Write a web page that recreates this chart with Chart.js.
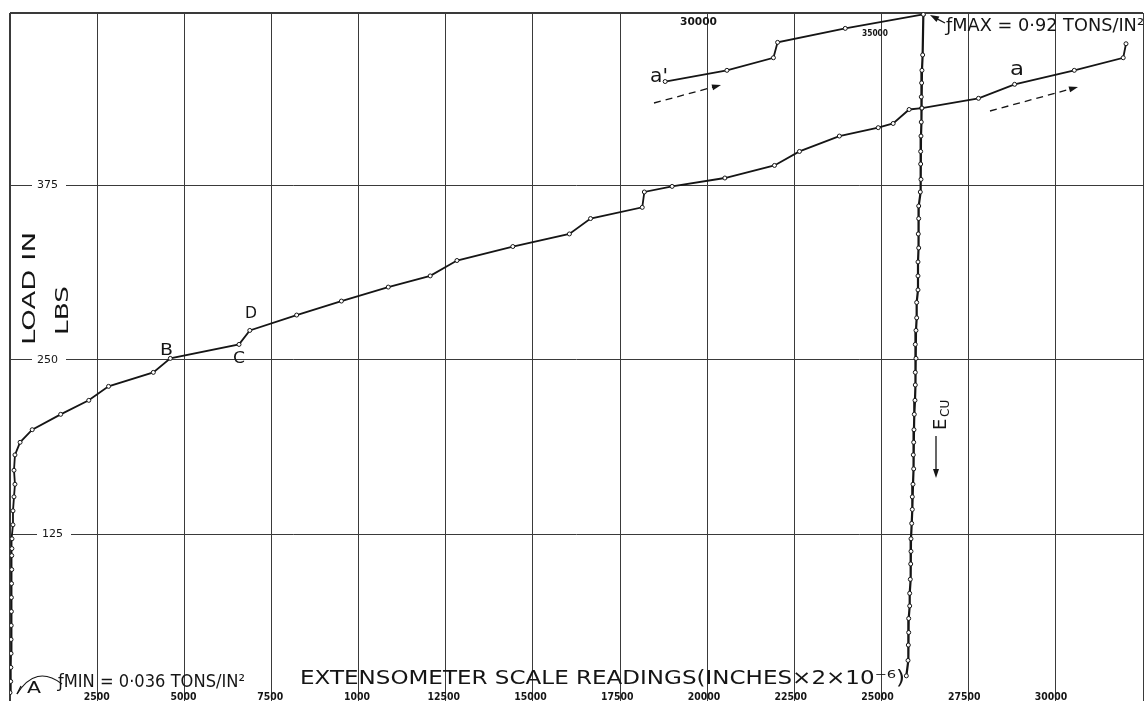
<!DOCTYPE html>
<html>
<head>
<meta charset="utf-8">
<script src="https://cdn.jsdelivr.net/npm/chart.js@4.4.1/dist/chart.umd.min.js"></script>
<style>
html, body { margin: 0; padding: 0; background: #fff; }
#wrap { width: 1148px; height: 706px; }
</style>
</head>
<body>
<div id="wrap"><canvas id="loadChart" width="1148" height="706"></canvas></div>
<script>
// loading curve A - B - C - D - a  (extensometer reading, load in lbs)
const loadExt = [0, 20, 25, 30, 30, 35, 40, 40, 45, 50, 50, 55, 57, 85, 86, 115, 143, 115, 143, 290, 640, 1460, 2270, 2840, 4130, 4620, 6600, 6910, 8260, 9550, 10900, 12110, 12880, 14490, 16120, 16730, 18220, 18280, 19080, 20600, 22030, 22750, 23900, 25020, 25450, 25910, 26280, 27910, 28950, 30670, 32080, 32160];
const loadLbs = [12, 20, 30, 40, 50, 60, 70, 80, 90, 100, 110, 115, 122, 132, 142, 152, 161, 171, 182, 191, 200, 211, 221, 231, 241, 251, 261, 271, 282, 292, 302, 310, 321, 331, 340, 351, 359, 370, 374, 380, 389, 399, 410, 416, 419, 429, 430, 437, 447, 457, 466, 476];

// a' - the end of the curve drawn again at the top, up to fmax
const contExt = [18880, 20660, 22000, 22120, 24070, 26320];
const contLbs = [449, 457, 466, 477, 487, 497];

// unloading line Ecu
const unloadExt = [26320, 26300, 26280, 26271, 26260, 26271, 26260, 26252, 26243, 26243, 26252, 26232, 26186, 26186, 26174, 26186, 26166, 26166, 26166, 26128, 26128, 26108, 26088, 26108, 26088, 26088, 26079, 26059, 26050, 26042, 26030, 26042, 26022, 26002, 26002, 25985, 25964, 25964, 25956, 25944, 25927, 25927, 25898, 25898, 25887, 25878, 25830];
const unloadLbs = [497, 468, 457, 448, 438, 430, 420, 410, 399, 390, 379, 370, 360, 351, 340, 330, 320, 310, 300, 291, 280, 271, 261, 251, 241, 232, 221, 211, 200, 191, 182, 172, 161, 152, 143, 133, 122, 113, 104, 93, 83, 74, 65, 55, 46, 35, 24];

const xTickValues = [2500, 5000, 7500, 10000, 12500, 15000, 17500, 20000, 22500, 25000, 27500, 30000];
const xTickLabels = ["2500", "5000", "7500", "1000", "12500", "15000", "17500", "20000", "22500", "25000", "27500", "30000"];
const yTickValues = [125, 250, 375];
const yTickLabels = ["125", "250", "375"];

const ink = "#151515";
const hand = '"DejaVu Sans", sans-serif';

function toPoints(xs, ys) {
    return xs.map((x, i) => ({ x: x, y: ys[i] }));
}

function curve(label, xs, ys, width) {
    return {
        label: label,
        data: toPoints(xs, ys),
        showLine: true,
        borderColor: ink,
        borderWidth: width,
        pointRadius: 2,
        pointBorderWidth: 1,
        pointBorderColor: ink,
        pointBackgroundColor: "#fff",
        tension: 0
    };
}

// text squeezed or stretched to the width it has in the drawing
function fitText(c, text, x, y, w, size, weight) {
    c.save();
    c.font = (weight || "normal") + " " + size + "px " + hand;
    c.textBaseline = "middle";
    c.textAlign = "left";
    const m = c.measureText(text).width;
    c.translate(x, y);
    c.scale(w / m, 1);
    c.fillText(text, 0, 0);
    c.restore();
}

function fitTextUp(c, text, cx, yBottom, yTop, size) {
    c.save();
    c.font = size + "px " + hand;
    c.textBaseline = "middle";
    c.textAlign = "left";
    const m = c.measureText(text).width;
    c.translate(cx, yBottom);
    c.rotate(-Math.PI / 2);
    c.scale((yBottom - yTop) / m, 1);
    c.fillText(text, 0, 0);
    c.restore();
}

function arrow(c, x1, y1, x2, y2, dashed) {
    const a = Math.atan2(y2 - y1, x2 - x1);
    c.save();
    c.lineWidth = 1.3;
    if (dashed) c.setLineDash([7, 5]);
    c.beginPath();
    c.moveTo(x1, y1);
    c.lineTo(x2 - 6 * Math.cos(a), y2 - 6 * Math.sin(a));
    c.stroke();
    c.setLineDash([]);
    c.beginPath();
    c.moveTo(x2, y2);
    c.lineTo(x2 - 9 * Math.cos(a) + 3 * Math.sin(a), y2 - 9 * Math.sin(a) - 3 * Math.cos(a));
    c.lineTo(x2 - 9 * Math.cos(a) - 3 * Math.sin(a), y2 - 9 * Math.sin(a) + 3 * Math.cos(a));
    c.closePath();
    c.fill();
    c.restore();
}

// tick labels sit inside the frame, so they are placed from the scales here
const tickLabels = {
    id: "tickLabels",
    afterDraw(chart) {
        const c = chart.ctx;
        const xs = chart.scales.x;
        const ys = chart.scales.y;
        c.save();
        c.fillStyle = ink;
        c.textBaseline = "middle";

        c.font = "bold 11px " + hand;
        c.textAlign = "center";
        xTickValues.forEach((v, i) => {
            const px = xs.getPixelForValue(v);
            c.save();
            c.translate(px, 697);
            c.scale(0.85, 1);
            c.fillText(xTickLabels[i], 0, 0);
            c.restore();
        });

        c.font = "11px " + hand;
        c.textAlign = "left";
        yTickValues.forEach((v, i) => {
            const py = ys.getPixelForValue(v);
            const x0 = i === 0 ? 42 : 37;
            const w = c.measureText(yTickLabels[i]).width;
            c.fillStyle = "#fff";
            c.fillRect(x0 - 5, py - 3, w + 13, 6);
            c.fillStyle = ink;
            c.fillText(yTickLabels[i], x0, py);
        });
        c.restore();
    }
};

const notes = {
    id: "notes",
    afterDatasetsDraw(chart) {
        const c = chart.ctx;
        c.save();
        c.fillStyle = ink;
        c.strokeStyle = ink;

        fitText(c, "EXTENSOMETER SCALE READINGS(INCHES\u00d72\u00d710\u207b\u2076)", 300, 679, 605, 19);
        fitText(c, "\u0192MIN = 0\u00b7036 TONS/IN\u00b2", 58, 683, 187, 17);
        fitText(c, "\u0192MAX = 0\u00b792 TONS/IN\u00b2", 946, 27, 198, 17);

        fitTextUp(c, "LOAD IN", 30, 345, 232, 18);
        fitTextUp(c, "LBS", 63, 335, 286, 18);

        fitText(c, "30000", 680, 22, 37, 11, "bold");
        fitText(c, "35000", 862, 34, 26, 9, "bold");

        fitText(c, "B", 160, 351, 13, 16);
        fitText(c, "C", 233, 359, 12, 16);
        fitText(c, "D", 245, 314, 12, 16);
        fitText(c, "a'", 650, 77, 18, 20);
        fitText(c, "a", 1010, 70, 14, 20);
        fitText(c, "A", 27, 689, 14, 16);

        // Ecu, written upwards beside the unloading line
        c.save();
        c.translate(941, 430);
        c.rotate(-Math.PI / 2);
        c.font = "18px " + hand;
        c.textBaseline = "middle";
        c.fillText("E", 0, 0);
        c.font = "12px " + hand;
        c.fillText("CU", 13, 5);
        c.restore();

        arrow(c, 936, 436, 936, 478, false);
        arrow(c, 945, 23, 930, 15, false);
        arrow(c, 654, 103, 721, 85, true);
        arrow(c, 990, 111, 1078, 87, true);

        // little arc over A
        c.lineWidth = 1.2;
        c.beginPath();
        c.moveTo(17, 694);
        c.quadraticCurveTo(36, 664, 62, 684);
        c.stroke();
        c.beginPath();
        c.moveTo(17, 694);
        c.lineTo(21, 686);
        c.stroke();

        c.restore();
    }
};

new Chart(document.getElementById("loadChart"), {

    type: "scatter",

    data: {
        datasets: [
            curve("Loading", loadExt, loadLbs, 1.8),
            curve("a'", contExt, contLbs, 1.8),
            curve("Ecu", unloadExt, unloadLbs, 2.2)
        ]
    },

    options: {
        responsive: false,
        animation: false,
        devicePixelRatio: 1,
        layout: { padding: { left: 10, top: 13, right: 0, bottom: 0 } },
        plugins: {
            legend: { display: false },
            tooltip: { enabled: false }
        },
        scales: {
            x: {
                type: "linear",
                position: "bottom",
                min: 0,
                max: 32650,
                border: { display: false },
                grid: {
                    color: "#3a3a3a",
                    lineWidth: (ctx) => (ctx.tick && ctx.tick.value === 0 ? 2 : 1),
                    drawTicks: false
                },
                ticks: { display: false, stepSize: 2500, autoSkip: false },
                afterFit: (scale) => { scale.height = 0; }
            },
            y: {
                type: "linear",
                min: 6,
                max: 498,
                border: { display: false },
                afterBuildTicks: (scale) => {
                    scale.ticks = yTickValues.concat([scale.max]).map((v) => ({ value: v }));
                },
                grid: {
                    color: "#3a3a3a",
                    lineWidth: (ctx) => (ctx.tick && ctx.tick.value === 498 ? 2 : 1),
                    drawTicks: false
                },
                ticks: { display: false },
                afterFit: (scale) => { scale.width = 0; }
            }
        }
    },

    plugins: [tickLabels, notes]

});
</script>
</body>
</html>
